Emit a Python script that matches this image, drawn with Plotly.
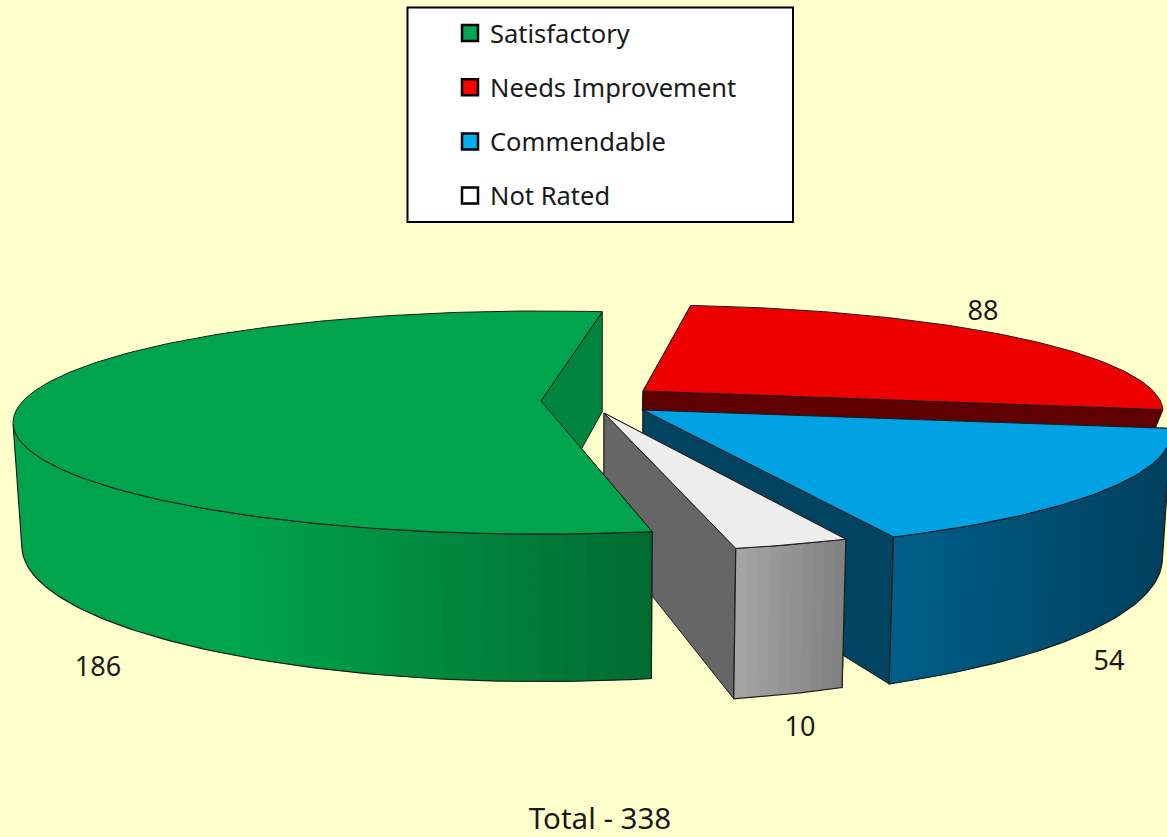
import math
import plotly.graph_objects as go

# ---- data ----
categories = ["Satisfactory", "Needs Improvement", "Commendable", "Not Rated"]
counts = [186, 88, 54, 10]
total_prefix = "Total - "

# ---- styles ----
top_colors = ["#00A44C", "#EE0000", "#00A2E4", "#EDEDED"]
legend_colors = ["#00A651", "#FF0000", "#00B0F0", "#FFFFFF"]
cut_colors = ["#00853F", "#600000", "#004461", "#666666"]
rim_left = ["#00A44C", "#600000", "#005F8A", "#A6A6A6"]
rim_right = ["#006B30", "#600000", "#00405E", "#808080"]
BG = "#FFFFCC"
EDGE = "#1c1c1c"

# ---- layout of the exploded pie (axis units = pixels) ----
slice_cx = [541, 643, 643, 604]
slice_cy = [401, 391, 410, 413]
slice_depth = [119, 20, 121, 122]
slice_turn = [0.1, -1.6, -2.7, -1.8]
slice_wide = [1.0, 0.985, 1.0, 1.0]
slice_flat = [1.0, 0.955, 1.06, 1.045]
label_x = [98, 983, 1109, 800]
label_y = [669, 313, 663, 729]
START_DEG = 8.0        # clockwise from the back of the pie
RADIUS = 518.0
FLATTEN = 107.4
PERSP = 0.193
VANISH_X = 600.0
BOTTOM_SCALE = 0.985


def hexmix(a, b, t):
    ca = [int(a[i:i + 2], 16) for i in (1, 3, 5)]
    cb = [int(b[i:i + 2], 16) for i in (1, 3, 5)]
    return "#%02x%02x%02x" % tuple(round(p + (q - p) * t) for p, q in zip(ca, cb))


def top_pt(i, deg):
    r = math.radians(deg + slice_turn[i])
    X = math.sin(r)
    Y = math.cos(r)
    w = 1 + PERSP * Y
    return (slice_cx[i] + RADIUS * slice_wide[i] * X / w,
            slice_cy[i] - FLATTEN * slice_flat[i] * Y / w, Y)


def drop(i, p):
    x, y, Y = p
    return VANISH_X + (x - VANISH_X) * BOTTOM_SCALE, y + slice_depth[i] / (1 + PERSP * Y)


fig = go.Figure()


def poly(xs, ys, fill, line=None):
    fig.add_trace(go.Scatter(
        x=list(xs) + [xs[0]], y=list(ys) + [ys[0]], mode="lines", fill="toself",
        fillcolor=fill, showlegend=False, hoverinfo="skip",
        line=dict(color=line or fill, width=1 if line else 0)))


def stroke(xs, ys):
    fig.add_trace(go.Scatter(x=xs, y=ys, mode="lines", showlegend=False, hoverinfo="skip",
                             line=dict(color=EDGE, width=1.2)))


total = sum(counts)
spans = []
a = START_DEG
order = [1, 2, 3, 0]  # red, blue, grey, green: back to front
for idx in order:
    sweep = counts[idx] / total * 360
    spans.append((idx, a, a + sweep))
    a += sweep

for i, a0, a1 in spans:
    # cut faces
    for deg in (a0, a1):
        p = top_pt(i, deg)
        q = drop(i, p)
        cx, cy = slice_cx[i], slice_cy[i]
        bx = VANISH_X + (cx - VANISH_X) * BOTTOM_SCALE
        by = cy + slice_depth[i]
        poly([cx, p[0], q[0], bx], [cy, p[1], q[1], by], cut_colors[i], EDGE)
    # rim wall as narrow bands shaded across the slice, each overlapping the next
    n = max(2, int((a1 - a0) / 1.0))
    degs = [a0 + (a1 - a0) * k / n for k in range(n + 1)]
    pts = [top_pt(i, d) for d in degs]
    vis = [p for p in pts if p[2] < -PERSP]
    if vis:
        xmin = min(p[0] for p in vis)
        xmax = max(p[0] for p in vis)
        ordered = sorted(vis, key=lambda p: p[0])
        for k in range(len(ordered) - 1):
            p = ordered[k]
            q = ordered[min(k + 2, len(ordered) - 1)]
            t = ((p[0] + ordered[k + 1][0]) / 2 - xmin) / max(1, xmax - xmin)
            if i == 0:
                t = max(0, (t - 0.35) / 0.65)
            col = hexmix(rim_left[i], rim_right[i], t)
            pb, qb = drop(i, p), drop(i, q)
            poly([p[0], q[0], qb[0], pb[0]], [p[1], q[1], qb[1], pb[1]], col)
        bottom = [drop(i, p) for p in vis]
        stroke([p[0] for p in vis] + [b[0] for b in reversed(bottom)] + [vis[0][0]],
               [p[1] for p in vis] + [b[1] for b in reversed(bottom)] + [vis[0][1]])
    # top face
    poly([slice_cx[i]] + [p[0] for p in pts], [slice_cy[i]] + [p[1] for p in pts], top_colors[i], EDGE)

# value labels
fig.add_trace(go.Scatter(
    x=label_x, y=label_y, mode="text", text=[str(c) for c in counts], showlegend=False,
    hoverinfo="skip", textfont=dict(family="Noto Sans", size=27, color="#1a1a1a")))

# total caption
fig.add_trace(go.Scatter(
    x=[600], y=[822], mode="text", text=[total_prefix + str(total)], showlegend=False,
    hoverinfo="skip", textfont=dict(family="Noto Sans", size=29.5, color="#1a1a1a")))

# legend entries
for name, col in zip(categories, legend_colors):
    fig.add_trace(go.Scatter(
        x=[None], y=[None], mode="markers", name=name, legendgroup=name,
        marker=dict(symbol="square", size=16, color=col, line=dict(color="#000000", width=2.5))))

fig.update_layout(
    width=1167, height=837, autosize=False,
    margin=dict(l=0, r=0, t=0, b=0),
    paper_bgcolor=BG, plot_bgcolor=BG,
    xaxis=dict(range=[0, 1167], visible=False, fixedrange=True),
    yaxis=dict(range=[837, 0], visible=False, fixedrange=True),
    legend=dict(
        x=407 / 1167, y=1 - 10 / 837, xanchor="left", yanchor="top",
        bgcolor="rgba(0,0,0,0)", borderwidth=0,
        font=dict(family="Noto Sans", size=25.5, color="#1a1a1a"),
        traceorder="grouped", tracegroupgap=18, indentation=43,
        itemsizing="trace"),
    shapes=[dict(type="rect", xref="x", yref="y", x0=407.5, x1=793, y0=7.5, y1=222,
                 fillcolor="#FFFFFF", line=dict(color="#000000", width=2), layer="above")],
)

fig.write_html("out.html", config=dict(displayModeBar=False),
               post_script="document.body.style.margin='0';document.body.style.background='%s';" % BG)
